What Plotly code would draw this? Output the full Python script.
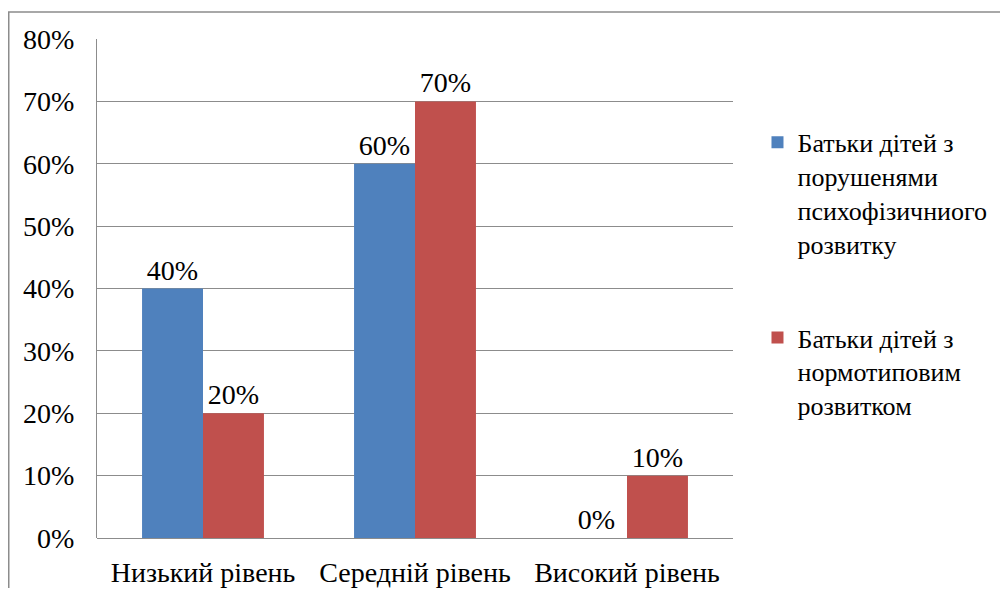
import plotly.graph_objects as go

categories = ["Низький рівень", "Середній рівень", "Високий рівень"]
series_names = ["Батьки дітей з<br>порушенями<br>психофізичниого<br>розвитку",
                "Батьки дітей з<br>нормотиповим<br>розвитком"]
blue_values = [0.40, 0.60, 0.00]
red_values = [0.20, 0.70, 0.10]
tick_vals = [0, 0.1, 0.2, 0.3, 0.4, 0.5, 0.6, 0.7, 0.8]
tick_text = ["0%", "10%", "20%", "30%", "40%", "50%", "60%", "70%", "80%"]

FONT = "Liberation Serif"
FS = 28

fig = go.Figure()
fig.add_trace(go.Bar(
    x=categories, y=blue_values, name=series_names[0],
    marker=dict(color="#4F81BD", line=dict(width=0)),
    text=[f"{int(round(v*100))}%" for v in blue_values],
    textposition="outside", textfont=dict(size=FS, color="black", family=FONT),
    cliponaxis=False, legendgroup="a",
))
fig.add_trace(go.Bar(
    x=categories, y=red_values, name=series_names[1],
    marker=dict(color="#C0504D", line=dict(width=0)),
    text=[f"{int(round(v*100))}%" for v in red_values],
    textposition="outside", textfont=dict(size=FS, color="black", family=FONT),
    cliponaxis=False, legendgroup="b",
))

# figure is offset by the page's 8px body margin
fig.update_layout(
    width=1000, height=580,
    margin=dict(l=89, r=275, t=31, b=50, autoexpand=False),
    paper_bgcolor="white", plot_bgcolor="white",
    font=dict(family=FONT, size=FS, color="black"),
    barmode="group", bargap=0.425, bargroupgap=0,
    showlegend=True,
    legend=dict(x=1.0385, y=0.84, xanchor="left", yanchor="top",
                font=dict(size=26, family=FONT, color="black"), tracegroupgap=57,
                valign="top", bgcolor="rgba(0,0,0,0)"),
)
fig.update_xaxes(showgrid=False, showline=False, ticks="", automargin=False,
                 tickfont=dict(size=FS, family=FONT, color="black"),
                 ticklabelstandoff=15)
fig.update_yaxes(range=[0, 0.8], tickvals=tick_vals, ticktext=tick_text, automargin=False,
                 showgrid=True, gridcolor="#8C8C8C", gridwidth=1,
                 showline=True, linecolor="#8C8C8C", linewidth=1,
                 zeroline=True, zerolinecolor="#8C8C8C", zerolinewidth=1,
                 ticks="", tickfont=dict(size=FS, family=FONT, color="black"),
                 ticklabelstandoff=16)

# outer chart border
fig.add_shape(type="rect", xref="paper", yref="paper",
              x0=(0.75-89)/636, x1=(1030-89)/636, y0=-(640-530)/499, y1=1+(31-4)/499,
              line=dict(color="#8C8C8C", width=1.5), fillcolor="rgba(0,0,0,0)", layer="below")

fig.write_html("out.html")
